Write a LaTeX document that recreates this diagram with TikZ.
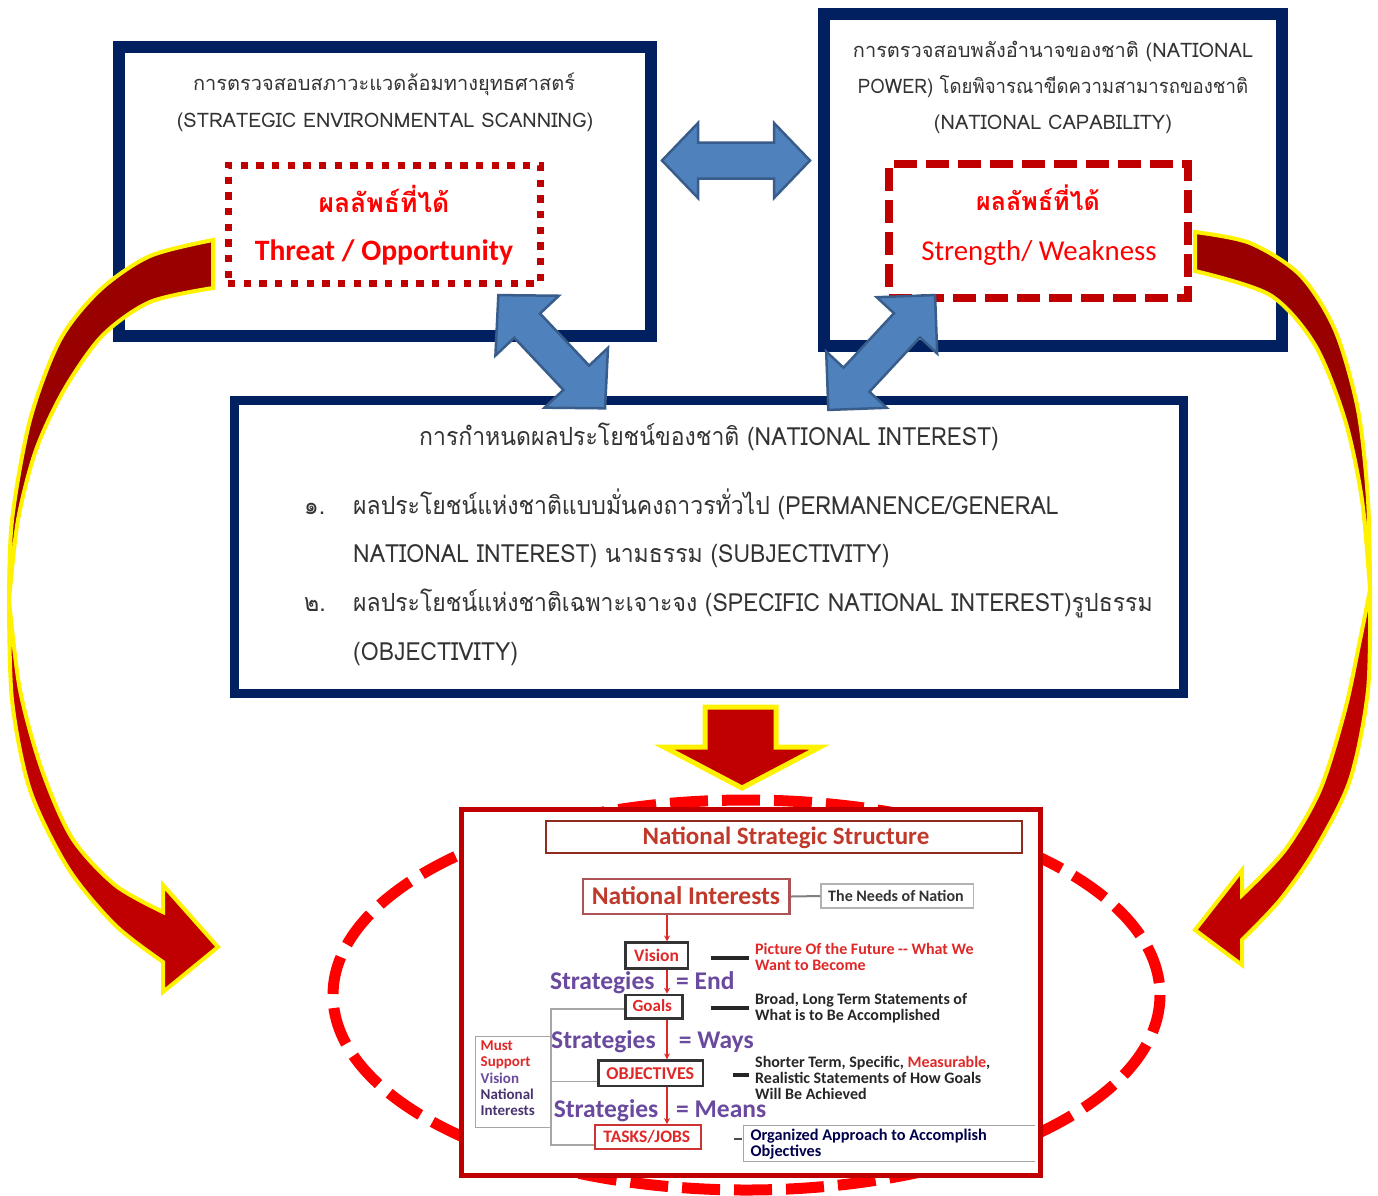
\documentclass[tikz,border=0pt]{standalone}
\usepackage{fontspec}
\newfontfamily\thai[Script=Thai]{Loma}
\newfontfamily\thaic[Script=Thai,FakeStretch=0.92]{Loma}
\newfontfamily\thaid[Script=Thai,FakeStretch=0.93]{Loma}
\newfontfamily\calfont{Carlito}
\newcommand\fs[1]{\fontsize{#1}{#1}\selectfont}
\definecolor{navy}{HTML}{002060}
\definecolor{dred}{HTML}{C00000}
\definecolor{bred}{HTML}{FF0000}
\definecolor{ribdark}{HTML}{990000}
\definecolor{blfill}{HTML}{4F81BD}
\definecolor{blline}{HTML}{385D8A}
\definecolor{txt}{HTML}{333333}
\definecolor{purp}{HTML}{6A4A9E}
\definecolor{insred}{HTML}{C0392B}
\definecolor{brred}{HTML}{E02828}
\newcommand{\dblarrow}[7]{%
\filldraw[bluearr, shift={(#1,#2)}, rotate=#3] (-#4,0) -- ({-#4+#5},#6) -- ({-#4+#5},#7) -- ({#4-#5},#7) -- ({#4-#5},#6) -- (#4,0) -- ({#4-#5},-#6) -- ({#4-#5},-#7) -- ({-#4+#5},-#7) -- ({-#4+#5},-#6) -- cycle;}
\usetikzlibrary{arrows.meta}
\tikzset{
 navybox/.style={draw=navy, fill=white, inner sep=0pt},
 bluearr/.style={fill=blfill, draw=blline, line width=2.5pt, line join=miter},
 ribbon/.style={draw=yellow, line width=4pt, line join=miter},
 tb/.style={inner sep=0pt, anchor=base, text=txt},
 tw/.style={inner sep=0pt, anchor=base west, text=txt},
 cc/.style={inner sep=0pt, anchor=base},
 cw/.style={inner sep=0pt, anchor=base west},
 rarr/.style={draw=brred, line width=2pt, -{Stealth[length=6pt,width=6pt]}},
}
\begin{document}
\begin{tikzpicture}[x=1pt,y=-1pt]
\useasboundingbox (0,0) rectangle (1378,1195);
\fill[white] (0,0) rectangle (1378,1195);
% ---------- boxes
\node[navybox, line width=12pt, minimum width=532pt, minimum height=289pt] (tl) at (385,191.5) {};
\node[navybox, line width=12pt, minimum width=458pt, minimum height=332.5pt] (tr) at (1053,179.75) {};
\node[navybox, line width=9pt, minimum width=949pt, minimum height=293pt] (mid) at (709,547) {};
\node[draw=dred, line width=7pt, dash pattern=on 7.3pt off 8.4pt, minimum width=312pt, minimum height=118pt, inner sep=0pt] (dot) at (384,224) {};
\node[draw=dred, line width=8pt, dash pattern=on 23pt off 9pt, minimum width=299pt, minimum height=134pt, inner sep=0pt] (dash) at (1038.5,231) {};
% ---------- top-left texts
\node[tb, font=\thai\fs{20}] (tl1) at (384,90) {การตรวจสอบสภาวะแวดล้อมทางยุทธศาสตร์};
\node[tb, font=\thai\fs{20}] (tl2) at (385,127) {(STRATEGIC ENVIRONMENTAL SCANNING)};
\node[tb, font=\thai\bfseries\fs{26.5}, text=bred] (tl3) at (384,212) {ผลลัพธ์ที่ได้};
\node[tb, font=\calfont\bfseries\fs{29.6}, text=bred] (tl4) at (384,260) {Threat / Opportunity};
% ---------- top-right texts
\node[tb, font=\thai\fs{20}] (tr1) at (1053,57) {การตรวจสอบพลังอำนาจของชาติ (NATIONAL};
\node[tb, font=\thaid\fs{20}] (tr2) at (1053,93) {POWER) โดยพิจารณาขีดความสามารถของชาติ};
\node[tb, font=\thai\fs{20}] (tr3) at (1053,129) {(NATIONAL CAPABILITY)};
\node[tb, font=\thai\bfseries\fs{25}, text=bred] (tr4) at (1038,210) {ผลลัพธ์ที่ได้};
\node[tb, font=\calfont\fs{28.8}, text=bred] (tr5) at (1039,260) {Strength/ Weakness};
% ---------- middle texts
\node[tb, font=\thaic\fs{25}] (m0) at (709,445) {การกำหนดผลประโยชน์ของชาติ (NATIONAL INTEREST)};
\node[tw, font=\thaic\fs{25}] (n1) at (304,514) {๑.};
\node[tw, font=\thaic\fs{25}] (m1) at (353,514) {ผลประโยชน์แห่งชาติแบบมั่นคงถาวรทั่วไป (PERMANENCE/GENERAL};
\node[tw, font=\thaic\fs{25}] (m2) at (353,562) {NATIONAL INTEREST) นามธรรม (SUBJECTIVITY)};
\node[tw, font=\thaic\fs{25}] (n2) at (304,611) {๒.};
\node[tw, font=\thaic\fs{25}] (m3) at (353,611) {ผลประโยชน์แห่งชาติเฉพาะเจาะจง (SPECIFIC NATIONAL INTEREST)รูปธรรม};
\node[tw, font=\thaic\fs{25}] (m4) at (353,660) {(OBJECTIVITY)};
% ---------- blue double arrows
\dblarrow{736}{160.5}{0}{74}{36}{37.5}{18}
\dblarrow{551.7}{351.7}{-46.7}{77.8}{42}{43.6}{17.7}
\dblarrow{881.7}{352.5}{47.1}{78.4}{41.3}{41.3}{17.7}
% ---------- left curved arrow
\filldraw[ribbon, fill=ribdark] plot[smooth] coordinates {(213,240) (150,256) (100,290) (60,340) (30,420) (12,520) (9,600)} -- plot[smooth] coordinates {(9,600) (18,520) (36,450) (64,390) (102,336) (150,302) (213,288)} -- cycle;
\filldraw[ribbon, fill=dred] plot[smooth] coordinates {(9,600) (12,700) (30,790) (68,868) (115,925) (163,962)} -- (163,992) -- (218,947) -- (163,885) -- plot[smooth] coordinates {(163,912) (115,885) (72,838) (42,770) (20,690) (9,600)} -- cycle;
% ---------- right curved arrow
\filldraw[ribbon, fill=ribdark] plot[smooth] coordinates {(1195,232) (1250,243) (1300,275) (1335,330) (1358,410) (1368,500) (1370,590)} -- plot[smooth] coordinates {(1370,590) (1362,500) (1345,420) (1315,345) (1270,295) (1195,271)} -- cycle;
\filldraw[ribbon, fill=dred] plot[smooth] coordinates {(1370,590) (1368,690) (1350,780) (1315,850) (1280,900) (1242,940)} -- (1242,965) -- (1195,930) -- (1242,870) -- plot[smooth] coordinates {(1242,895) (1285,850) (1320,790) (1345,710) (1360,640) (1370,590)} -- cycle;
% ---------- down arrow
\filldraw[draw=yellow, line width=5pt, fill=dred, line join=miter] (705,707) -- (776,707) -- (776,747) -- (820,747) -- (742,788) -- (664,747) -- (705,747) -- cycle;
% ---------- ellipse
\draw[bred, line width=11pt, dash pattern=on 38pt off 14pt] (746.5,995) ellipse [x radius=413.5, y radius=195];
% ---------- inset
\node[draw=dred, line width=5pt, fill=white, minimum width=579pt, minimum height=366pt, inner sep=0pt] (inset) at (751,992.5) {};
\node[draw=insred!75!black, line width=1.8pt, minimum width=476pt, minimum height=32pt, inner sep=0pt] (nssbox) at (783.6,836.7) {};
\node[cc, font=\calfont\bfseries\fs{25}, text=insred] (nss) at (786,844.7) {National Strategic Structure};
\node[draw=red!35!gray, line width=2.5pt, minimum width=206.6pt, minimum height=35pt, inner sep=0pt] (nibox) at (686.3,896.5) {};
\node[cc, font=\calfont\bfseries\fs{25.5}, text=insred] (ni) at (686,904.9) {National Interests};
\node[draw=gray!60, line width=1.2pt, minimum width=152.6pt, minimum height=24pt, inner sep=0pt] (needs) at (897.3,896) {};
\node[cc, font=\calfont\bfseries\fs{16}, text=black!80] (needst) at (896,901.8) {The Needs of Nation};
\draw[gray, line width=2pt] (nibox.east) -- (needs.west);
\node[draw=black!80, line width=2.5pt, minimum width=62.7pt, minimum height=25.6pt, inner sep=0pt] (vision) at (656.6,955.5) {};
\node[cc, font=\calfont\bfseries\fs{17.5}, text=brred] (visiont) at (656.6,961.3) {Vision};
\node[draw=black!80, line width=2.5pt, minimum width=57pt, minimum height=23.3pt, inner sep=0pt] (goals) at (653.8,1006.6) {};
\node[cc, font=\calfont\bfseries\fs{17}, text=brred] (goalst) at (652.3,1011.6) {Goals};
\node[draw=black!80, line width=2.5pt, minimum width=104.8pt, minimum height=25.3pt, inner sep=0pt] (obj) at (650.8,1073.3) {};
\node[cc, font=\calfont\bfseries\fs{18}, text=brred] (objt) at (650.3,1079.6) {OBJECTIVES};
\node[draw=red!60!gray, line width=2pt, minimum width=106.3pt, minimum height=24.3pt, inner sep=0pt] (tasks) at (648.2,1137.2) {};
\node[cc, font=\calfont\bfseries\fs{17.5}, text=brred] (taskst) at (646.8,1142.4) {TASKS/JOBS};
\coordinate (ax) at (667,0);
\draw[rarr] (nibox.south -| ax) -- (vision.north -| ax);
\draw[rarr] (vision.south -| ax) -- (goals.north -| ax);
\draw[rarr] (goals.south -| ax) -- (obj.north -| ax);
\draw[rarr] (obj.south -| ax) -- (tasks.north -| ax);
\node[cw, font=\calfont\bfseries\fs{25.5}, text=purp] (s1) at (549.8,989.2) {Strategies};
\node[cw, font=\calfont\bfseries\fs{25.5}, text=purp] (e1) at (676,989.2) {= End};
\node[cw, font=\calfont\bfseries\fs{25.5}, text=purp] (s2) at (551,1048.2) {Strategies};
\node[cw, font=\calfont\bfseries\fs{25.5}, text=purp] (e2) at (678.7,1048.2) {= Ways};
\node[cw, font=\calfont\bfseries\fs{25.5}, text=purp] (s3) at (553.6,1117.7) {Strategies};
\node[cw, font=\calfont\bfseries\fs{25.5}, text=purp] (e3) at (676,1117.7) {= Means};
\draw[black!85, line width=4pt] (710.8,957.7) -- (748.5,957.7);
\draw[black!85, line width=4pt] (710.8,1007.7) -- (748.5,1007.7);
\draw[black!85, line width=3.5pt] (733.4,1075) -- (748.5,1075);
\draw[black!70, line width=1.5pt] (734,1139) -- (742.4,1139);
\node[cw, font=\calfont\bfseries\fs{16}, text=brred] (p1) at (755,954.4) {Picture Of the Future -- What We};
\node[cw, font=\calfont\bfseries\fs{16}, text=brred] (p2) at (755,970.6) {Want to Become};
\node[cw, font=\calfont\bfseries\fs{16}, text=black!85] (b1) at (755,1004.4) {Broad, Long Term Statements of};
\node[cw, font=\calfont\bfseries\fs{16}, text=black!85] (b2) at (755,1020.8) {What is to Be Accomplished};
\node[cw, font=\calfont\bfseries\fs{16}, text=black!85] (o1) at (755,1067.8) {Shorter Term, Specific, \textcolor{brred}{Measurable},};
\node[cw, font=\calfont\bfseries\fs{16}, text=black!85] (o2) at (755,1083.6) {Realistic Statements of How Goals};
\node[cw, font=\calfont\bfseries\fs{16}, text=black!85] (o3) at (755,1099.6) {Will Be Achieved};
\draw[gray!70, line width=1pt] (1035,1125) -- (743.8,1125) -- (743.8,1161.7) -- (1035,1161.7);
\node[cw, font=\calfont\bfseries\fs{16.3}, text=black!70!blue] (g1) at (750.4,1140.2) {Organized Approach to Accomplish};
\node[cw, font=\calfont\bfseries\fs{16.3}, text=black!70!blue] (g2) at (750.4,1156.2) {Objectives};
\draw[gray!70, line width=1.2pt] (goals.west |- 0,1009) -- (551,1009) -- (551,1145) -- (tasks.west |- 0,1145);
\draw[gray!70, line width=1.2pt] (551,1081.7) -- (obj.west |- 0,1081.7);
\node[draw=gray!70, line width=1pt, minimum width=75.3pt, minimum height=90.6pt, inner sep=0pt] (must) at (513.4,1082) {};
\node[cw, font=\calfont\bfseries\fs{15}, text=brred] (u1) at (480.5,1050.5) {Must};
\node[cw, font=\calfont\bfseries\fs{15}, text=brred] (u2) at (480.5,1066.5) {Support};
\node[cw, font=\calfont\bfseries\fs{15}, text=purp] (u3) at (480.5,1083.1) {Vision};
\node[cw, font=\calfont\bfseries\fs{15}, text=purp!70!black] (u4) at (480.5,1099.1) {National};
\node[cw, font=\calfont\bfseries\fs{15}, text=purp!70!black] (u5) at (480.5,1115.5) {Interests};
\end{tikzpicture}
\end{document}
